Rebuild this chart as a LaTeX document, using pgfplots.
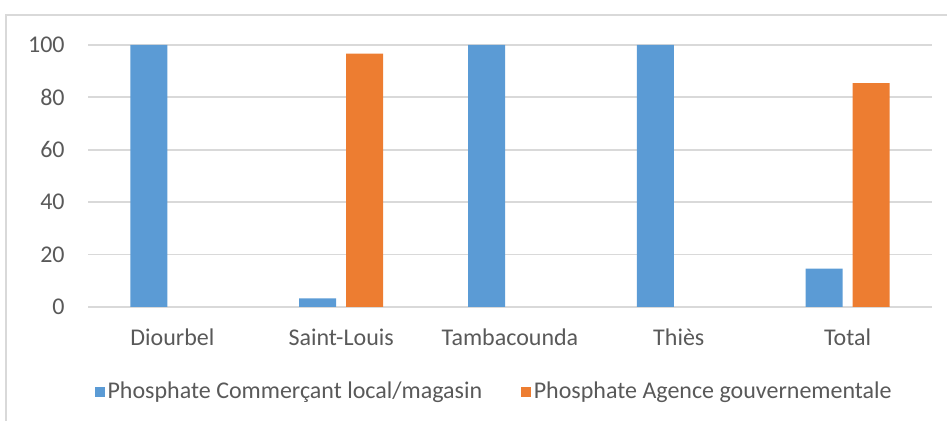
\documentclass[border=0pt]{standalone}
\usepackage{fontspec}
\setmainfont{Carlito}
\usepackage{pgfplots}
\pgfplotsset{compat=1.18}
\definecolor{cblue}{RGB}{91,155,213}
\definecolor{corange}{RGB}{237,125,49}
\definecolor{gridgray}{RGB}{217,217,217}
\definecolor{txtgray}{RGB}{89,89,89}
\begin{document}
\fontsize{12}{14}\selectfont
\begin{tikzpicture}
\path[use as bounding box] (0,0) rectangle (473.5pt,210.5pt);
\draw[gridgray, line width=0.6pt] (3pt,-10pt) rectangle (490pt,203pt);
\begin{axis}[
  at={(44pt,57pt)}, anchor=south west,
  scale only axis, width=422pt, height=131pt,
  ybar=5pt, bar width=18.5pt,
  xmin=-0.5, xmax=4.5, ymin=0, ymax=100,
  xtick={0,1,2,3,4},
  xticklabels={Diourbel,Saint-Louis,Tambacounda,Thiès,Total},
  ytick={0,20,40,60,80,100},
  /pgf/number format/assume math mode=true,
  axis line style={draw=none},
  major tick length=0pt,
  ymajorgrids, grid style={gridgray, line width=0.9pt},
  tick label style={font=\fontsize{12}{14}\selectfont, text=txtgray, inner sep=0pt},
  xticklabel style={anchor=base, yshift=-19.5pt},
  yticklabel style={anchor=east, xshift=-11.5pt},
  legend columns=2,
  legend style={draw=none, fill=none, at={(0.482,-0.324)}, anchor=center,
    font=\fontsize{12}{14}\selectfont, text=txtgray,
    /tikz/every even column/.append style={column sep=18pt},
    nodes={inner sep=1.5pt}},
  legend image code/.code={\fill[#1] (0pt,-2.4pt) rectangle (4.8pt,2.4pt);},
]
\addplot[fill=cblue, draw=none] coordinates {(0,100) (1,3.3) (2,100) (3,100) (4,14.6)};
\addplot[fill=corange, draw=none] coordinates {(1,96.7) (4,85.4)};
\legend{Phosphate Commerçant local/magasin, Phosphate Agence gouvernementale}
\end{axis}
\end{tikzpicture}
\end{document}
